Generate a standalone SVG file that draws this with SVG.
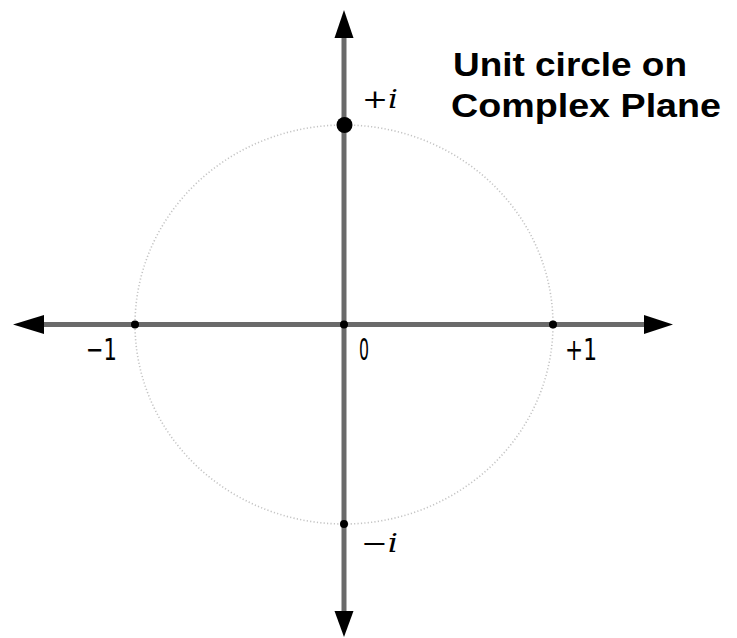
<svg xmlns="http://www.w3.org/2000/svg" width="737" height="638" viewBox="0 0 737 638">
<style>
.axis{stroke:#6a6a6a;stroke-width:5;fill:none}
.head{fill:#000}
.circle{fill:none;stroke:#c4c4c4;stroke-width:1.6;stroke-dasharray:1.2 2.2}
.dot{fill:#000}
.num{font-family:"DejaVu Sans",sans-serif;font-size:31px;fill:#000}
.im{font-family:"DejaVu Serif","Liberation Serif",serif;font-size:26px;fill:#000}
.title{font-family:"Liberation Sans",Arial,sans-serif;font-weight:bold;font-size:34px;fill:#000}
</style>
<rect width="737" height="638" fill="#fff"/>
<g id="unit-circle">
<ellipse class="circle" cx="344" cy="324.5" rx="209" ry="199.5"/>
</g>
<g id="connectors">
<line class="axis" x1="40" y1="324.5" x2="648" y2="324.5"/>
<line class="axis" x1="344" y1="34" x2="344" y2="614"/>
<polygon class="head" points="13,324.5 44,315 44,334"/>
<polygon class="head" points="673,324.5 644,315 644,334"/>
<polygon class="head" points="344,10 334.5,38 353.5,38"/>
<polygon class="head" points="344,637 334.5,611 353.5,611"/>
</g>
<g id="node-plus-i">
<circle class="dot" cx="344.5" cy="125" r="8"/>
<text class="im" x="362" y="108" textLength="36" lengthAdjust="spacingAndGlyphs">+<tspan font-style="italic">i</tspan></text>
</g>
<g id="node-minus-i">
<circle class="dot" cx="344" cy="524" r="4"/>
<text class="im" x="361" y="552" textLength="37" lengthAdjust="spacingAndGlyphs">−<tspan font-style="italic">i</tspan></text>
</g>
<g id="node-minus-1">
<circle class="dot" cx="135" cy="324.5" r="4"/>
<text class="num" x="86" y="360" textLength="31" lengthAdjust="spacingAndGlyphs">−1</text>
</g>
<g id="node-zero">
<circle class="dot" cx="344" cy="324.5" r="4"/>
<text class="num" x="359" y="360" textLength="10" lengthAdjust="spacingAndGlyphs">0</text>
</g>
<g id="node-plus-1">
<circle class="dot" cx="553" cy="324.5" r="4"/>
<text class="num" x="565" y="360" textLength="32" lengthAdjust="spacingAndGlyphs">+1</text>
</g>
<g id="title">
<text class="title" x="453" y="76" textLength="234" lengthAdjust="spacingAndGlyphs">Unit circle on</text>
<text class="title" x="451" y="117" textLength="270" lengthAdjust="spacingAndGlyphs">Complex Plane</text>
</g>
</svg>
